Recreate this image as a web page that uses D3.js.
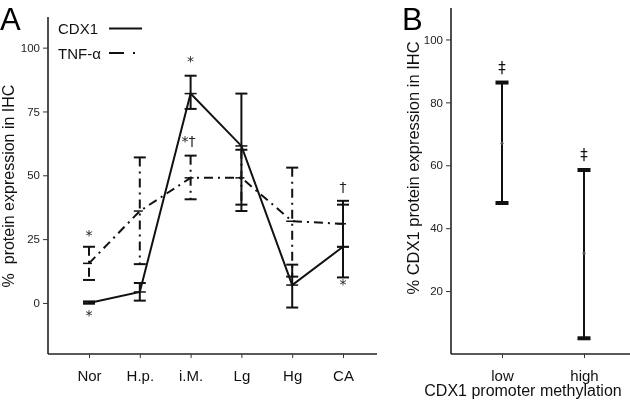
<!DOCTYPE html>
<html>
<head>
<meta charset="utf-8">
<script src="https://cdn.jsdelivr.net/npm/d3@7"></script>
<style>
  body { margin: 0; background: #fff; }
  svg { display: block; font-family: "Liberation Sans", Arial, sans-serif; opacity: 0.999; will-change: transform; }
  .sym { font-family: "DejaVu Sans", "Liberation Sans", sans-serif; }
</style>
</head>
<body>
<svg id="chart" width="630" height="400"></svg>
<script>
// ---- Panel A data ----
const categoriesA = ["Nor", "H.p.", "i.M.", "Lg", "Hg", "CA"];
const cdx1Mean  = [0, 4.3, 82, 61.5, 7, 22];
const cdx1Upper = [0.6, 7.8, 89, 82, 15, 38.5];
const cdx1Lower = [-0.3, 0.9, 76, 36, -1.8, 10];
const tnfMean   = [15.5, 36, 49, 49, 32, 31];
const tnfUpper  = [22, 57, 57.7, 60, 53, 40];
const tnfLower  = [9, 15.2, 40.6, 38.5, 10.3, 22];
const yTicksA   = [0, 25, 50, 75, 100];
// annotations: [categoryIndex, value, text]
const annotationsA = [
  [0, 24.5, "*"], [0, -6.5, "*"], [2, 93, "*"], [2, 61.5, "*†"], [5, 43.5, "†"], [5, 5.5, "*"]
];

// ---- Panel B data ----
const categoriesB = ["low", "high"];
const bMean  = [67, 32];
const bUpper = [86.3, 58.5];
const bLower = [48, 5];
const yTicksB = [20, 40, 60, 80, 100];
const bMarks = ["‡", "‡"];

const svg = d3.select("#chart");

// ================= Panel A =================
const xA = d3.scalePoint().domain(categoriesA).range([89, 343]);
const yA = d3.scaleLinear().domain([-20, 112]).range([354, 17]);

const gA = svg.append("g");
gA.append("line").attr("x1", 48).attr("x2", 48).attr("y1", yA(112)).attr("y2", yA(-20))
  .attr("stroke", "#222").attr("stroke-width", 1.6);
gA.append("line").attr("x1", 48).attr("x2", 377).attr("y1", yA(-20)).attr("y2", yA(-20))
  .attr("stroke", "#222").attr("stroke-width", 1.6);

const yAxisA = d3.axisLeft(yA).tickValues(yTicksA).tickSize(5).tickPadding(3);
const gyA = gA.append("g").attr("transform", "translate(48,0)").call(yAxisA);
gyA.select(".domain").remove();
gyA.selectAll("line").attr("stroke", "#333").attr("stroke-width", 1);
gyA.selectAll("text").attr("font-size", 11.5).attr("fill", "#222")
  .attr("font-family", "Liberation Sans, Arial, sans-serif");

const xAxisA = d3.axisBottom(xA).tickSize(4).tickPadding(12);
const gxA = gA.append("g").attr("transform", `translate(0,${yA(-20)})`).call(xAxisA);
gxA.select(".domain").remove();
gxA.selectAll("line").attr("stroke", "#333").attr("stroke-width", 1);
gxA.selectAll("text").attr("font-size", 15).attr("fill", "#111")
  .attr("font-family", "Liberation Sans, Arial, sans-serif");

gA.append("text")
  .attr("transform", `translate(14,${186}) rotate(-90)`)
  .attr("text-anchor", "middle").attr("font-size", 16).attr("fill", "#111")
  .style("white-space", "pre")
  .text("%  protein expression in IHC");

svg.append("text").attr("x", 0).attr("y", 30).attr("font-size", 31).attr("fill", "#000").text("A");

const dashDot = "9,5,2,5";

function errorBars(g, means, upp, low, dashed) {
  categoriesA.forEach((c, i) => {
    const x = xA(c);
    g.append("line").attr("x1", x).attr("x2", x).attr("y1", yA(upp[i])).attr("y2", yA(low[i]))
      .attr("stroke", "#111").attr("stroke-width", 2)
      .attr("stroke-dasharray", dashed ? dashDot : null);
    [upp[i], low[i], means[i]].forEach((v, k) => {
      g.append("line").attr("x1", x - 6).attr("x2", x + 6).attr("y1", yA(v)).attr("y2", yA(v))
        .attr("stroke", "#111").attr("stroke-width", k === 2 ? 1.5 : 2)
        .attr("stroke-dasharray", (k === 2 && dashed) ? dashDot : null);
    });
  });
}
errorBars(gA, tnfMean, tnfUpper, tnfLower, true);
errorBars(gA, cdx1Mean, cdx1Upper, cdx1Lower, false);

const lineA = d3.line().x((d, i) => xA(categoriesA[i])).y(d => yA(d));
gA.append("path").datum(tnfMean).attr("d", lineA).attr("fill", "none")
  .attr("stroke", "#111").attr("stroke-width", 2).attr("stroke-dasharray", dashDot);
gA.append("path").datum(cdx1Mean).attr("d", lineA).attr("fill", "none")
  .attr("stroke", "#111").attr("stroke-width", 2);

annotationsA.forEach(([i, v, t]) => {
  gA.append("text").attr("class", "sym").attr("x", xA(categoriesA[i]) + (t === "*†" ? -2 : 0)).attr("y", yA(v))
    .attr("text-anchor", "middle").attr("font-size", 14).attr("fill", "#222").text(t);
});

gA.append("text").attr("x", 58).attr("y", 34).attr("font-size", 15).attr("fill", "#111").text("CDX1");
gA.append("line").attr("x1", 109).attr("x2", 142).attr("y1", 28.5).attr("y2", 28.5)
  .attr("stroke", "#111").attr("stroke-width", 2);
gA.append("text").attr("x", 58).attr("y", 59).attr("font-size", 15).attr("fill", "#111").text("TNF-α");
gA.append("line").attr("x1", 109).attr("x2", 137).attr("y1", 53).attr("y2", 53)
  .attr("stroke", "#111").attr("stroke-width", 2).attr("stroke-dasharray", "15,9,2,20");

// ================= Panel B =================
const xB = d3.scalePoint().domain(categoriesB).range([502, 584]);
const yB = d3.scaleLinear().domain([0, 110]).range([354, 8]);
const gB = svg.append("g");

gB.append("line").attr("x1", 451).attr("x2", 451).attr("y1", yB(110)).attr("y2", yB(0))
  .attr("stroke", "#222").attr("stroke-width", 1.6);
gB.append("line").attr("x1", 451).attr("x2", 630).attr("y1", yB(0)).attr("y2", yB(0))
  .attr("stroke", "#222").attr("stroke-width", 1.6);

const yAxisB = d3.axisLeft(yB).tickValues(yTicksB).tickSize(5).tickPadding(3);
const gyB = gB.append("g").attr("transform", "translate(451,0)").call(yAxisB);
gyB.select(".domain").remove();
gyB.selectAll("line").attr("stroke", "#333").attr("stroke-width", 1);
gyB.selectAll("text").attr("font-size", 11.5).attr("fill", "#222")
  .attr("font-family", "Liberation Sans, Arial, sans-serif");

const xAxisB = d3.axisBottom(xB).tickSize(4).tickPadding(12);
const gxB = gB.append("g").attr("transform", `translate(0,${yB(0)})`).call(xAxisB);
gxB.select(".domain").remove();
gxB.selectAll("line").attr("stroke", "#333").attr("stroke-width", 1);
gxB.selectAll("text").attr("font-size", 15).attr("fill", "#111")
  .attr("font-family", "Liberation Sans, Arial, sans-serif");

gB.append("text").attr("x", 523).attr("y", 396).attr("text-anchor", "middle")
  .attr("font-size", 16).attr("fill", "#111").text("CDX1 promoter methylation");

gB.append("text")
  .attr("transform", `translate(419,${168}) rotate(-90)`)
  .attr("text-anchor", "middle").attr("font-size", 16.5).attr("fill", "#111")
  .text("% CDX1 protein expression in IHC");

svg.append("text").attr("x", 402).attr("y", 30).attr("font-size", 31).attr("fill", "#000").text("B");

categoriesB.forEach((c, i) => {
  const x = xB(c);
  gB.append("line").attr("x1", x).attr("x2", x).attr("y1", yB(bUpper[i])).attr("y2", yB(bLower[i]))
    .attr("stroke", "#111").attr("stroke-width", 2);
  [bUpper[i], bLower[i]].forEach(v => {
    gB.append("line").attr("x1", x - 6.5).attr("x2", x + 6.5).attr("y1", yB(v)).attr("y2", yB(v))
      .attr("stroke", "#111").attr("stroke-width", 4);
  });
  gB.append("circle").attr("cx", x).attr("cy", yB(bMean[i])).attr("r", 1.5).attr("fill", "#555");
  gB.append("text").attr("class", "sym").attr("x", x).attr("y", yB(bUpper[i]) - 10).attr("text-anchor", "middle")
    .attr("font-size", 15).attr("fill", "#111").text(bMarks[i]);
});
</script>
</body>
</html>
